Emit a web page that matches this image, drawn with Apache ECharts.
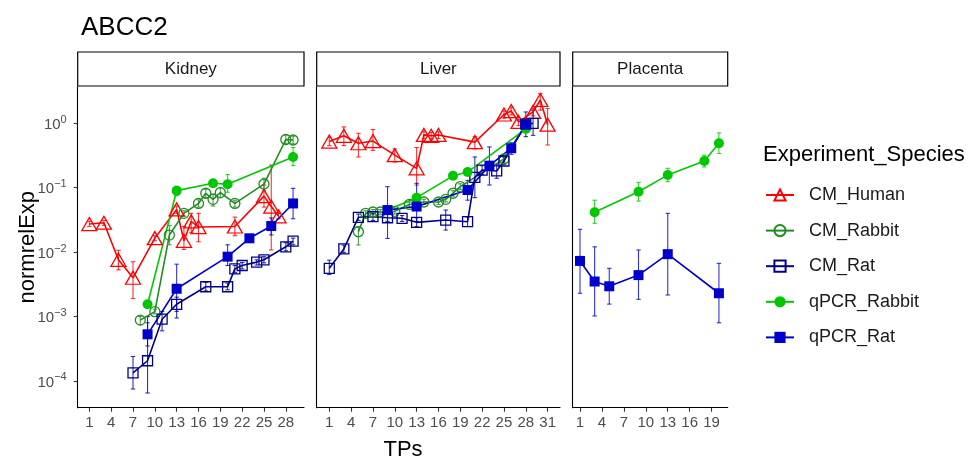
<!DOCTYPE html>
<html>
<head>
<meta charset="utf-8">
<script src="https://cdn.jsdelivr.net/npm/echarts@6/dist/echarts.min.js"></script>
<style>
html, body { margin: 0; padding: 0; background: #fff; }
#chart { width: 971px; height: 458px; }
</style>
</head>
<body>
<div id="chart"></div>
<script>
// facets / groups / ticks
const facets = ['Kidney', 'Liver', 'Placenta'];
const groups = ['CM_Human', 'CM_Rabbit', 'CM_Rat', 'qPCR_Rabbit', 'qPCR_Rat'];
const yTickExponents = [-4, -3, -2, -1, 0];
const kidneyTicks = [1, 4, 7, 10, 13, 16, 19, 22, 25, 28];
const liverTicks = [1, 4, 7, 10, 13, 16, 19, 22, 25, 28, 31];
const placentaTicks = [1, 4, 7, 10, 13, 16, 19];

// rows: [TP, normrelExp, lower, upper]
const kidneyCMHuman = [
    [1, 0.0273, 0.025, 0.030], [3, 0.0286, 0.026, 0.031], [5, 0.0076, 0.0053, 0.0107],
    [7, 0.0040, 0.0019, 0.0071], [10, 0.0165, 0.015, 0.018], [13, 0.046, 0.040, 0.052],
    [14, 0.0150, 0.011, 0.025], [15, 0.0300, 0.020, 0.040], [16, 0.0245, 0.0145, 0.040],
    [21, 0.0250, 0.018, 0.035], [25, 0.074, 0.050, 0.110], [26, 0.051, 0.0108, 0.225],
    [27, 0.036, 0.033, 0.040]
];
const kidneyCMRabbit = [
    [8, 0.00088, 0.00075, 0.0010], [10, 0.00119, 0.0011, 0.0013], [12, 0.0184, 0.013, 0.026],
    [14, 0.040, 0.036, 0.044], [16, 0.057, 0.050, 0.065], [17, 0.082, 0.070, 0.095],
    [18, 0.066, 0.052, 0.080], [19, 0.084, 0.070, 0.100], [21, 0.057, 0.050, 0.064],
    [25, 0.114, 0.090, 0.140], [28, 0.56, 0.48, 0.66], [29, 0.55, 0.48, 0.63]
];
const kidneyCMRat = [
    [7, 0.000134, 0.000075, 0.00024], [9, 0.000206, 0.000065, 0.0010], [11, 0.00091, 0.0006, 0.0012],
    [13, 0.00155, 0.00095, 0.0020], [17, 0.0029, 0.0025, 0.0034], [20, 0.0029, 0.0026, 0.0033],
    [21, 0.0055, 0.0048, 0.0062], [22, 0.0062, 0.0055, 0.0069], [24, 0.0070, 0.0063, 0.0076],
    [25, 0.0076, 0.0068, 0.0085], [28, 0.0121, 0.0105, 0.0140], [29, 0.0148, 0.013, 0.0165]
];
const kidneyQpcrRabbit = [
    [9, 0.00155, 0.0014, 0.0017], [13, 0.090, 0.075, 0.105], [18, 0.117, 0.105, 0.130],
    [20, 0.113, 0.085, 0.160], [29, 0.30, 0.22, 0.42]
];
const kidneyQpcrRat = [
    [9, 0.00053, 0.00035, 0.0008], [13, 0.0027, 0.0012, 0.0065], [20, 0.0085, 0.0062, 0.013],
    [23, 0.0164, 0.0148, 0.0185], [26, 0.0254, 0.0185, 0.034], [29, 0.057, 0.033, 0.098]
];

const liverCMHuman = [
    [1, 0.52, 0.45, 0.60], [3, 0.64, 0.45, 0.88], [5, 0.49, 0.30, 0.70], [7, 0.53, 0.38, 0.80],
    [10, 0.32, 0.25, 0.40], [13, 0.20, 0.11, 0.42], [14, 0.66, 0.58, 0.74], [15, 0.64, 0.57, 0.72],
    [16, 0.66, 0.58, 0.74], [21, 0.51, 0.40, 0.62], [25, 1.37, 1.20, 1.55], [26, 1.55, 1.35, 1.75],
    [27, 1.05, 0.92, 1.15], [29, 1.50, 1.30, 1.70], [30, 2.3, 1.6, 2.9], [31, 0.95, 0.46, 1.7]
];
const liverCMRabbit = [
    [5, 0.0207, 0.0129, 0.025], [6, 0.040, 0.036, 0.044], [7, 0.042, 0.038, 0.046],
    [8, 0.042, 0.038, 0.046], [10, 0.043, 0.039, 0.047], [12, 0.055, 0.050, 0.060],
    [14, 0.060, 0.055, 0.066], [16, 0.060, 0.055, 0.066], [17, 0.066, 0.060, 0.072],
    [18, 0.082, 0.074, 0.090], [19, 0.104, 0.094, 0.115], [25, 0.28, 0.25, 0.31],
    [28, 0.95, 0.85, 1.05]
];
const liverCMRat = [
    [1, 0.0056, 0.0045, 0.0075], [3, 0.0112, 0.0098, 0.0128], [5, 0.0347, 0.031, 0.039],
    [7, 0.0355, 0.031, 0.040], [9, 0.0342, 0.030, 0.039], [11, 0.0335, 0.030, 0.037],
    [13, 0.0290, 0.025, 0.034], [17, 0.0315, 0.022, 0.045], [20, 0.0297, 0.025, 0.035],
    [21, 0.145, 0.070, 0.30], [22, 0.188, 0.16, 0.22], [24, 0.182, 0.14, 0.23],
    [25, 0.26, 0.23, 0.30], [28, 0.97, 0.62, 1.5], [29, 1.0, 0.65, 1.6]
];
const liverQpcrRabbit = [
    [9, 0.045, 0.041, 0.049], [13, 0.070, 0.064, 0.077], [18, 0.153, 0.14, 0.165],
    [20, 0.175, 0.16, 0.19], [28, 0.82, 0.75, 0.90]
];
const liverQpcrRat = [
    [9, 0.045, 0.0163, 0.104], [13, 0.051, 0.030, 0.117], [20, 0.092, 0.064, 0.13],
    [23, 0.22, 0.11, 0.43], [26, 0.41, 0.33, 0.50], [28, 0.95, 0.85, 1.05]
];

const placentaQpcrRabbit = [
    [3, 0.0415, 0.028, 0.064], [9, 0.0867, 0.062, 0.121], [13, 0.157, 0.124, 0.20],
    [18, 0.26, 0.21, 0.32], [20, 0.49, 0.34, 0.71]
];
const placentaQpcrRat = [
    [1, 0.0073, 0.0023, 0.0226], [3, 0.0035, 0.00102, 0.0121], [5, 0.00295, 0.00156, 0.0056],
    [9, 0.0044, 0.00185, 0.0108], [13, 0.0093, 0.00216, 0.040], [20, 0.0023, 0.0008, 0.0067]
];

const facetData = {
    Kidney: { CM_Human: kidneyCMHuman, CM_Rabbit: kidneyCMRabbit, CM_Rat: kidneyCMRat, qPCR_Rabbit: kidneyQpcrRabbit, qPCR_Rat: kidneyQpcrRat },
    Liver: { CM_Human: liverCMHuman, CM_Rabbit: liverCMRabbit, CM_Rat: liverCMRat, qPCR_Rabbit: liverQpcrRabbit, qPCR_Rat: liverQpcrRat },
    Placenta: { qPCR_Rabbit: placentaQpcrRabbit, qPCR_Rat: placentaQpcrRat }
};
const facetTicks = [kidneyTicks, liverTicks, placentaTicks];

// layout (pixels) and styles
const FONT = 'Liberation Sans, Arial, sans-serif';
const PANEL_TOP = 86.7;
const PANEL_HEIGHT = 321;
const panels = [
    { left: 77.7, width: 226.3, min: -0.6, max: 30.5 },
    { left: 316.7, width: 243.3, min: -0.73, max: 32.7 },
    { left: 572.7, width: 155, min: 0.0, max: 21.2 }
];
const Y_MIN = -4.415;
const Y_MAX = 0.568;

const groupStyle = {
    CM_Human: { color: '#FF0000', symbol: 'triangle', size: [15, 13], hollow: true },
    CM_Rabbit: { color: '#228B22', symbol: 'circle', size: 10, hollow: true },
    CM_Rat: { color: '#00008B', symbol: 'rect', size: 10, hollow: true },
    qPCR_Rabbit: { color: '#00C800', symbol: 'circle', size: 10, hollow: false },
    qPCR_Rat: { color: '#0000CD', symbol: 'rect', size: 10, hollow: false }
};

function renderErrorBar(params, api) {
    const x = api.value(0);
    const lo = api.coord([x, api.value(1)]);
    const hi = api.coord([x, api.value(2)]);
    const cap = 2.2;
    const style = { stroke: api.visual('color'), lineWidth: 1.1, opacity: 0.8 };
    return {
        type: 'group',
        children: [
            { type: 'line', shape: { x1: lo[0], y1: lo[1], x2: hi[0], y2: hi[1] }, style: style },
            { type: 'line', shape: { x1: lo[0] - cap, y1: lo[1], x2: lo[0] + cap, y2: lo[1] }, style: style },
            { type: 'line', shape: { x1: hi[0] - cap, y1: hi[1], x2: hi[0] + cap, y2: hi[1] }, style: style }
        ]
    };
}

const chart = echarts.init(document.getElementById('chart'));

const grids = [];
const xAxes = [];
const yAxes = [];
const graphics = [];
const series = [];

panels.forEach(function (p, i) {
    grids.push({ left: p.left, top: PANEL_TOP, width: p.width, height: PANEL_HEIGHT, containLabel: false });
    xAxes.push({
        type: 'value',
        gridIndex: i,
        min: p.min,
        max: p.max,
        axisLine: { show: true, onZero: false, lineStyle: { color: '#000', width: 1.1 } },
        axisTick: { show: true, length: 4, customValues: facetTicks[i], lineStyle: { color: '#333', width: 1.1 } },
        axisLabel: { customValues: facetTicks[i], color: '#4D4D4D', fontSize: 15, fontFamily: FONT, margin: 8 },
        splitLine: { show: false }
    });
    yAxes.push({
        type: 'value',
        gridIndex: i,
        min: Y_MIN,
        max: Y_MAX,
        axisLine: { show: true, onZero: false, lineStyle: { color: '#000', width: 1.1 } },
        axisTick: { show: i === 0, length: 4, customValues: yTickExponents, lineStyle: { color: '#333', width: 1.1 } },
        axisLabel: {
            show: i === 0,
            customValues: yTickExponents,
            margin: 11,
            formatter: function (v) {
                const e = Math.round(v);
                return '{b|10}{s|' + (e < 0 ? '\u2212' + (-e) : e) + '}';
            },
            rich: {
                b: { fontSize: 15, color: '#4D4D4D', fontFamily: FONT, lineHeight: 18, verticalAlign: 'bottom' },
                s: { fontSize: 11, color: '#4D4D4D', fontFamily: FONT, lineHeight: 18, verticalAlign: 'top' }
            }
        },
        splitLine: { show: false }
    });
    // facet strip
    graphics.push({
        type: 'rect',
        shape: { x: p.left, y: 52, width: p.width, height: 34 },
        style: { fill: '#fff', stroke: '#000', lineWidth: 1.2 }
    });
    graphics.push({
        type: 'text',
        x: p.left + p.width / 2,
        y: 69,
        style: { text: facets[i], fontSize: 17, fontFamily: FONT, fill: '#1A1A1A', align: 'center', verticalAlign: 'middle' }
    });
});

// error bars first, then lines with points
facets.forEach(function (facet, fi) {
    groups.forEach(function (g) {
        const rows = facetData[facet][g];
        if (!rows) return;
        series.push({
            type: 'custom',
            name: g + ' SE',
            xAxisIndex: fi,
            yAxisIndex: fi,
            silent: true,
            z: 1,
            itemStyle: { color: groupStyle[g].color },
            encode: { x: 0, y: [1, 2] },
            data: rows.map(function (r) { return [r[0], Math.log10(r[2]), Math.log10(r[3])]; }),
            renderItem: renderErrorBar
        });
    });
});
facets.forEach(function (facet, fi) {
    groups.forEach(function (g) {
        const rows = facetData[facet][g];
        if (!rows) return;
        const st = groupStyle[g];
        series.push({
            type: 'line',
            name: g,
            xAxisIndex: fi,
            yAxisIndex: fi,
            z: 2,
            symbol: st.symbol,
            symbolSize: st.size,
            showAllSymbol: true,
            lineStyle: { color: st.color, width: 1.6 },
            itemStyle: st.hollow
                ? { color: 'rgba(255,255,255,0)', borderColor: st.color, borderWidth: 1.3 }
                : { color: st.color, borderColor: st.color, borderWidth: 0 },
            data: rows.map(function (r) { return [r[0], Math.log10(r[1])]; })
        });
    });
});

graphics.push({
    type: 'text',
    x: 28,
    y: PANEL_TOP + PANEL_HEIGHT / 2,
    rotation: Math.PI / 2,
    style: { text: 'normrelExp', fontSize: 22, fontFamily: FONT, fill: '#000', align: 'center', verticalAlign: 'middle' }
});
graphics.push({
    type: 'text',
    x: 403,
    y: 450,
    style: { text: 'TPs', fontSize: 22, fontFamily: FONT, fill: '#000', align: 'center', verticalAlign: 'middle' }
});
graphics.push({
    type: 'text',
    x: 763,
    y: 155,
    style: { text: 'Experiment_Species', fontSize: 22, fontFamily: FONT, fill: '#000', align: 'left', verticalAlign: 'middle' }
});

chart.setOption({
    backgroundColor: '#fff',
    animation: false,
    title: {
        text: 'ABCC2',
        left: 76,
        top: 10,
        textStyle: { fontSize: 26, fontWeight: 'normal', color: '#000', fontFamily: FONT }
    },
    legend: {
        data: groups,
        orient: 'vertical',
        left: 760,
        top: 181,
        itemWidth: 28,
        itemHeight: 14,
        itemGap: 17.6,
        textStyle: { fontSize: 18, color: '#1A1A1A', fontFamily: FONT, padding: [0, 0, 0, 10] }
    },
    grid: grids,
    xAxis: xAxes,
    yAxis: yAxes,
    graphic: graphics,
    series: series
});

window.addEventListener('resize', function () { chart.resize(); });
</script>
</body>
</html>
